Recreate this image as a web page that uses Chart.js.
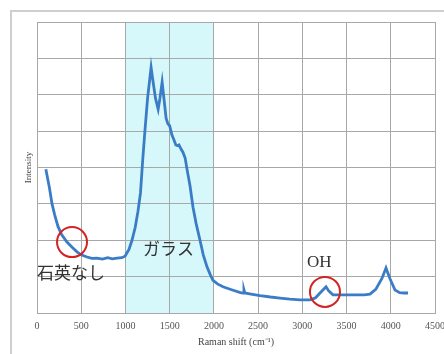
<!DOCTYPE html>
<html>
<head>
<meta charset="utf-8">
<script src="https://cdn.jsdelivr.net/npm/chart.js@4/dist/chart.umd.min.js"></script>
<style>
  html, body { margin: 0; padding: 0; background: #ffffff; }
  #wrap { position: relative; width: 444px; height: 354px; }
</style>
</head>
<body>
<div id="wrap"><canvas id="c" width="444" height="354"></canvas></div>
<script>
// ---- data ----
const ramanShift = [100, 140, 170, 200, 237, 280, 339, 400, 452, 500, 565, 620, 678, 740, 800, 850, 905, 960, 995,
  1040, 1074, 1110, 1142, 1170, 1195, 1220, 1250, 1290, 1310, 1340, 1370, 1390, 1415, 1435, 1460, 1480, 1500,
  1525, 1550, 1570, 1590, 1605, 1630, 1650, 1675, 1700, 1730, 1764, 1800, 1843, 1880, 1922, 1960, 1990,
  2040, 2103, 2200, 2300, 2330, 2340, 2350, 2420, 2521, 2640, 2747, 2860, 2974, 3090, 3150, 3200, 3268,
  3300, 3347, 3450, 3600, 3700, 3765, 3830, 3900, 3946, 3990, 4048, 4100, 4150, 4195];
const intensity = [3.95, 3.45, 3.0, 2.7, 2.38, 2.15, 1.95, 1.8, 1.68, 1.6, 1.54, 1.5, 1.51, 1.48, 1.52, 1.49, 1.51, 1.52, 1.56,
  1.75, 2.0, 2.35, 2.8, 3.3, 4.2, 5.0, 5.9, 6.75, 6.4, 5.9, 5.6, 5.9, 6.35, 5.9, 5.35, 5.2, 5.15,
  4.9, 4.75, 4.62, 4.6, 4.62, 4.5, 4.42, 4.26, 3.9, 3.5, 2.91, 2.45, 2.0, 1.6, 1.27, 1.05, 0.9,
  0.8, 0.72, 0.64, 0.56, 0.55, 0.64, 0.55, 0.52, 0.48, 0.44, 0.41, 0.38, 0.36, 0.36, 0.42, 0.55, 0.72,
  0.6, 0.5, 0.5, 0.5, 0.5, 0.52, 0.65, 0.95, 1.24, 0.95, 0.63, 0.56, 0.55, 0.55];
const xTicks = [0, 500, 1000, 1500, 2000, 2500, 3000, 3500, 4000, 4500];
const glassRange = [1000, 2000];
const xTitle = 'Raman shift (cm⁻¹)';
const yTitle = 'Intensity';
// annotations: [x, y, label]
const textLabels = [
  [0, 1.1, '石英なし'],
  [1199, 1.76, 'ガラス'],
  [3053, 1.4, 'OH']
];
// circles: [x, y]
const circleMarks = [
  [396, 1.95],
  [3256, 0.58]
];

const points = ramanShift.map((x, i) => ({ x: x, y: intensity[i] }));

const decor = {
  id: 'decor',
  beforeDraw(chart) {
    const ctx = chart.ctx;
    const xs = chart.scales.x, ys = chart.scales.y;
    ctx.save();
    ctx.strokeStyle = '#cfcfcf';
    ctx.lineWidth = 2;
    ctx.beginPath();
    ctx.moveTo(11, 360);
    ctx.lineTo(11, 11);
    ctx.lineTo(450, 11);
    ctx.stroke();
    const x0 = xs.getPixelForValue(glassRange[0]);
    const x1 = xs.getPixelForValue(glassRange[1]);
    ctx.fillStyle = '#d6f8fa';
    ctx.fillRect(x0, ys.top, x1 - x0, ys.bottom - ys.top);
    ctx.restore();
  },
  afterDatasetsDraw(chart) {
    const ctx = chart.ctx;
    const xs = chart.scales.x, ys = chart.scales.y;
    ctx.save();
    ctx.strokeStyle = '#d42323';
    ctx.lineWidth = 2;
    circleMarks.forEach(c => {
      ctx.beginPath();
      ctx.arc(xs.getPixelForValue(c[0]), ys.getPixelForValue(c[1]), 15, 0, Math.PI * 2);
      ctx.stroke();
    });
    ctx.fillStyle = '#333333';
    ctx.textBaseline = 'middle';
    ctx.textAlign = 'left';
    textLabels.forEach(t => {
      if (t[2] === 'OH') ctx.font = '17px "Liberation Serif", serif';
      else ctx.font = '400 17px "Noto Sans CJK JP", sans-serif';
      ctx.fillText(t[2], xs.getPixelForValue(t[0]), ys.getPixelForValue(t[1]));
    });
    ctx.restore();
  }
};

new Chart(document.getElementById('c'), {
  type: 'line',
  data: {
    datasets: [{
      data: points,
      borderColor: '#3b7cc6',
      borderWidth: 2.8,
      pointRadius: 0,
      tension: 0,
      fill: false
    }]
  },
  options: {
    responsive: false,
    animation: false,
    events: [],
    layout: { padding: { left: 0, top: 22, right: 9, bottom: 0 } },
    plugins: { legend: { display: false }, tooltip: { enabled: false } },
    scales: {
      x: {
        type: 'linear',
        min: 0, max: 4500,
        afterBuildTicks: (s) => { s.ticks = xTicks.map(v => ({ value: v })); },
        afterFit: (s) => { s.height = 41; s.paddingLeft = 0; s.paddingRight = 0; },
        grid: { color: '#a8a8a8', lineWidth: 1, drawTicks: false },
        border: { color: '#a8a8a8', width: 1 },
        ticks: {
          maxRotation: 0, autoSkip: false, padding: 7,
          color: '#555555',
          callback: (v) => String(v),
          font: { family: '"Liberation Serif", serif', size: 10 }
        },
        title: {
          display: true, text: xTitle, color: '#444444',
          font: { family: '"Liberation Serif", serif', size: 10 },
          padding: { top: 0, bottom: 6 }
        }
      },
      y: {
        min: 0, max: 8,
        afterFit: (s) => { s.width = 37; s.paddingTop = 0; s.paddingBottom = 0; },
        grid: { color: '#a8a8a8', lineWidth: 1, drawTicks: false },
        border: { color: '#a8a8a8', width: 1 },
        ticks: { display: false, stepSize: 1 },
        title: {
          display: true, text: yTitle, color: '#444444',
          font: { family: '"Liberation Serif", serif', size: 9 },
          padding: { top: 23, bottom: 0 }
        }
      }
    }
  },
  plugins: [decor]
});
</script>
</body>
</html>
